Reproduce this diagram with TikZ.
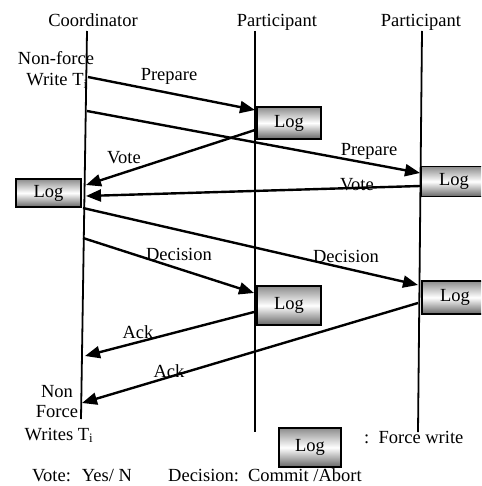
\documentclass[tikz,border=0pt]{standalone}
\usepackage{fontspec}
\setmainfont{Liberation Serif}
\usetikzlibrary{arrows.meta}
\tikzset{
  lifeline/.style={line width=1.8pt},
  msg/.style={line width=2.4pt,-{Triangle[length=15pt,width=12pt]}},
  logbox/.style={draw,line width=1.6pt,top color=black!45,bottom color=black!60,middle color=white,inner sep=0pt},
  lbl/.style={anchor=base,inner sep=0pt}
}
\begin{document}
\begin{tikzpicture}[x=1pt,y=-1pt,font=\fontsize{18.5}{21}\selectfont]
  \useasboundingbox (0,0) rectangle (481,486);
  \clip (0,0) rectangle (481,486);
  % heads
  \node[lbl] (coord) at (93,27) {Coordinator};
  \node[lbl] (part1) at (277,27) {Participant};
  \node[lbl] (part2) at (421,27) {Participant};
  % lifelines
  \coordinate (ctop) at (87,31);
  \coordinate (cbot) at (81,419);
  \coordinate (p1top) at (255,31);
  \coordinate (p1bot) at (255,432);
  \coordinate (p2top) at (422,31);
  \coordinate (p2bot) at (418,432);
  \draw[lifeline] (ctop) -- (cbot);
  \draw[lifeline] (p1top) -- (p1bot);
  \draw[lifeline] (p2top) -- (p2bot);
  % log writes
  \node[logbox,minimum width=65pt,minimum height=28pt] (logc) at (48.5,193) {Log};
  \node[logbox,minimum width=64pt,minimum height=32pt] (log1a) at (289,123) {Log};
  \node[logbox,minimum width=66pt,minimum height=30pt] (log2a) at (454,181.5) {Log};
  \node[logbox,minimum width=64pt,minimum height=39pt] (log1b) at (289,305.5) {Log};
  \node[logbox,minimum width=66pt,minimum height=33pt] (log2b) at (455,297.5) {Log};
  % message ends
  \coordinate (cprep1) at (88,77);   \coordinate (p1prep) at (255,110);
  \coordinate (cprep2) at (87,111);  \coordinate (p2prep) at (420,173);
  \coordinate (p1vote) at (255,130); \coordinate (cvote1) at (86,185);
  \coordinate (p2vote) at (420,186); \coordinate (cvote2) at (86,196);
  \coordinate (cdec2) at (83,208);   \coordinate (p2dec) at (418,285);
  \coordinate (cdec1) at (83,238);   \coordinate (p1dec) at (254,293);
  \coordinate (p1ack) at (254,312);  \coordinate (cack1) at (85,356);
  \coordinate (p2ack) at (418,303);  \coordinate (cack2) at (82,403);
  \draw[msg] (cprep1) -- (p1prep);
  \draw[msg] (cprep2) -- (p2prep);
  \draw[msg] (p1vote) -- (cvote1);
  \draw[msg] (p2vote) -- (cvote2);
  \draw[msg] (cdec2) -- (p2dec);
  \draw[msg] (cdec1) -- (p1dec);
  \draw[msg] (p1ack) -- (cack1);
  \draw[msg] (p2ack) -- (cack2);
  % labels
  \node[lbl] (lprep1) at (169,81) {Prepare};
  \node[lbl] (lprep2) at (369,156) {Prepare};
  \node[lbl] (lvote1) at (124,164) {Vote};
  \node[lbl] (lvote2) at (357,190) {Vote};
  \node[lbl] (ldec1) at (179,260) {Decision};
  \node[lbl] (ldec2) at (346,262) {Decision};
  \node[lbl] (lack1) at (138,338) {Ack};
  \node[lbl] (lack2) at (169,377) {Ack};
  \node[lbl] (nfa1) at (56,65) {Non-force};
  \node[lbl] (nfa2) at (57,86) {Write T\textsubscript{i}};
  \node[lbl] (nfb1) at (57,397) {Non};
  \node[lbl] (nfb2) at (57,417) {Force};
  \node[lbl] (nfb3) at (59,440) {Writes T\textsubscript{i}};
  % legend
  \node[logbox,minimum width=62pt,minimum height=39pt] (logkey) at (310,447.5) {Log};
  \node[lbl,anchor=base west] (keytxt) at (364,443) {:\ \ Force write};
  \begin{scope}
    \clip (0,460) rectangle (130,486);
    \node[lbl,anchor=base west] (keyvote) at (32,481) {Vote:\hspace{11pt}Yes/ N};
  \end{scope}
  \node[lbl,anchor=base west] (keydec) at (168,481) {Decision:\hspace{9pt}Commit /Abort};
\end{tikzpicture}
\end{document}
